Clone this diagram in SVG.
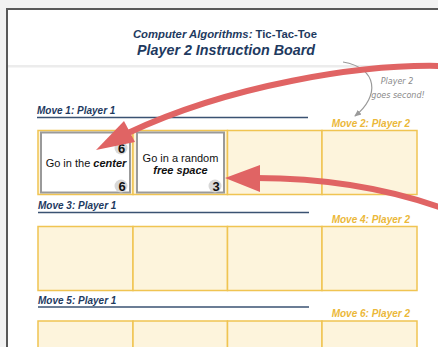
<svg xmlns="http://www.w3.org/2000/svg" width="438" height="347" viewBox="0 0 438 347">
<defs>
<style>
.navy{fill:#1e3a5f;font-family:"Liberation Sans",Arial,sans-serif;font-weight:bold;font-style:italic}
.gold{fill:#ebb83a;font-family:"Liberation Sans",Arial,sans-serif;font-weight:bold;font-style:italic;font-size:10px}
.ul{stroke:#3a5272;stroke-width:1.5}
.cell{fill:#fdf4dc;stroke:#f0c452;stroke-width:1.5}
.card{fill:#ffffff;stroke:#9a9a9a;stroke-width:2}
.ct{font-family:"Liberation Sans",Arial,sans-serif;font-size:11px;fill:#111}
.bi{font-weight:bold;font-style:italic}
.num{font-family:"Liberation Sans",Arial,sans-serif;font-size:13px;font-weight:bold;fill:#111}
.badge{fill:#d8d8d8}
.red{fill:none;stroke:#e06464;stroke-width:6}
.redh{fill:#e06464}
.note{font-family:"DejaVu Sans",sans-serif;font-size:8px;fill:#8a8a8a;font-style:italic}
</style>
<marker id="ga" markerWidth="8" markerHeight="8" refX="6" refY="4" orient="auto" markerUnits="userSpaceOnUse">
<path d="M0,1 L7,4 L0,7 Z" fill="#9a9a9a"/>
</marker>
</defs>
<rect x="0" y="0" width="438" height="347" fill="#f2f2f2"/>
<rect x="7" y="9" width="440" height="350" fill="#ffffff" stroke="#595959" stroke-width="2"/>
<rect x="8" y="65" width="430" height="2.5" fill="#ececec"/>

<g id="title">
<text x="225" y="38" text-anchor="middle" class="navy" font-size="11.3">Computer Algorithms: <tspan font-style="normal">Tic-Tac-Toe</tspan></text>
<text x="226" y="55" text-anchor="middle" class="navy" font-size="14.3">Player 2 Instruction Board</text>
</g>

<g id="move1">
<text x="37" y="114" class="navy" font-size="10">Move 1: Player 1</text>
<line x1="37" y1="117.5" x2="308" y2="117.5" class="ul"/>
</g>
<g id="move2"><text x="410" y="127" text-anchor="end" class="gold">Move 2: Player 2</text></g>
<g id="row1">
<rect x="38" y="130.5" width="95" height="64" class="cell"/>
<rect x="133" y="130.5" width="94.5" height="64" class="cell"/>
<rect x="227.5" y="130.5" width="94.5" height="64" class="cell"/>
<rect x="322" y="130.5" width="95" height="64" class="cell"/>
</g>
<g id="card-center">
<rect x="41" y="132.5" width="89" height="60" class="card"/>
<text x="86" y="167" text-anchor="middle" class="ct">Go in the <tspan class="bi">center</tspan></text>
<circle cx="121" cy="148" r="6.5" class="badge"/>
<text x="121.5" y="152.5" text-anchor="middle" class="num">6</text>
<circle cx="121" cy="186" r="6.5" class="badge"/>
<text x="122" y="190.5" text-anchor="middle" class="num">6</text>
</g>
<g id="card-random">
<rect x="137" y="132.5" width="87" height="60" class="card"/>
<text x="180.5" y="162" text-anchor="middle" class="ct">Go in a random</text>
<text x="180.5" y="173.5" text-anchor="middle" class="ct bi">free space</text>
<circle cx="215" cy="186" r="6.5" class="badge"/>
<text x="216" y="190.5" text-anchor="middle" class="num">3</text>
</g>

<g id="move3">
<text x="38" y="209" class="navy" font-size="10">Move 3: Player 1</text>
<line x1="38" y1="212.5" x2="309" y2="212.5" class="ul"/>
</g>
<g id="move4"><text x="410" y="223" text-anchor="end" class="gold">Move 4: Player 2</text></g>
<g id="row2">
<rect x="38" y="226.5" width="95" height="64" class="cell"/>
<rect x="133" y="226.5" width="94.5" height="64" class="cell"/>
<rect x="227.5" y="226.5" width="94.5" height="64" class="cell"/>
<rect x="322" y="226.5" width="95" height="64" class="cell"/>
</g>

<g id="move5">
<text x="38" y="304" class="navy" font-size="10">Move 5: Player 1</text>
<line x1="38" y1="307" x2="309" y2="307" class="ul"/>
</g>
<g id="move6"><text x="410" y="317" text-anchor="end" class="gold">Move 6: Player 2</text></g>
<g id="row3">
<rect x="38" y="321" width="95" height="64" class="cell"/>
<rect x="133" y="321" width="94.5" height="64" class="cell"/>
<rect x="227.5" y="321" width="94.5" height="64" class="cell"/>
<rect x="322" y="321" width="95" height="64" class="cell"/>
</g>

<g id="note">
<text x="397" y="84" text-anchor="middle" class="note">Player 2</text>
<text x="398" y="98" text-anchor="middle" class="note">goes second!</text>
</g>

<g id="connectors">
<path d="M343,62 C378,68 380,96 355,116" fill="none" stroke="#9a9a9a" stroke-width="1.2" marker-end="url(#ga)"/>
<path d="M442,66 C360,64 230,85 128,133" class="red"/>
<polygon points="96,150 124,121 135,142" class="redh"/>
<path d="M442,208 C380,186 320,178 256,178" class="red"/>
<polygon points="225,178 260,165 260,192" class="redh"/>
</g>
</svg>
